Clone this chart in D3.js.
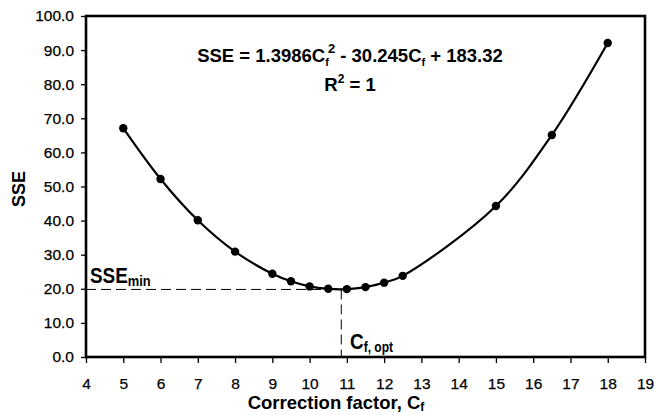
<!DOCTYPE html>
<html>
<head>
<meta charset="utf-8">
<script src="https://cdn.jsdelivr.net/npm/d3@7"></script>
<style>
  body { margin: 0; background: #fff; }
  text { font-family: Arial, "Liberation Sans", sans-serif; fill: #000; }
</style>
</head>
<body>
<script>
// correction factor values and SSE
var cf  = [5, 6, 7, 8, 9, 9.5, 10, 10.5, 11, 11.5, 12, 12.5, 15, 16.5, 18];
var sse = [67.1, 52.2, 40.1, 30.9, 24.4, 22.2, 20.7, 20.0, 19.9, 20.5, 21.8, 23.8, 44.3, 65.1, 92.1];
var xTicks = [4, 5, 6, 7, 8, 9, 10, 11, 12, 13, 14, 15, 16, 17, 18, 19];
var yTicks = [0, 10, 20, 30, 40, 50, 60, 70, 80, 90, 100];
var cfOpt = 10.85, sseMin = 19.81;

var margin = {top: 16, right: 9, bottom: 58, left: 86},
    width = 654 - margin.left - margin.right,
    height = 415 - margin.top - margin.bottom;

var svg = d3.select("body").append("svg")
    .attr("width", 654)
    .attr("height", 415);
var g = svg.append("g")
    .attr("transform", "translate(" + margin.left + "," + margin.top + ")");

var x = d3.scaleLinear().domain([4, 19]).range([0, width]);
var y = d3.scaleLinear().domain([0, 100]).range([height, 0]);

// axes
var xAxis = g.append("g")
    .attr("transform", "translate(0," + height + ")")
    .call(d3.axisBottom(x).tickValues(xTicks).tickSize(6).tickPadding(15).tickFormat(d3.format("d")));
var yAxis = g.append("g")
    .call(d3.axisLeft(y).tickValues(yTicks).tickSize(5).tickPadding(7).tickFormat(d3.format(".1f")));
[xAxis, yAxis].forEach(function(a) {
  a.select(".domain").remove();
  a.selectAll(".tick line").attr("stroke", "#000").attr("stroke-width", 1.3);
  a.selectAll(".tick text").style("font-size", "15.5px").attr("fill", "#000")
      .attr("stroke", "#000").attr("stroke-width", 0.25);
});

// frame
g.append("rect")
    .attr("width", width).attr("height", height)
    .attr("fill", "none").attr("stroke", "#000").attr("stroke-width", 2.6);

// dashed guides
g.append("line")
    .attr("x1", x(4)).attr("x2", x(cfOpt))
    .attr("y1", y(sseMin)).attr("y2", y(sseMin))
    .attr("stroke", "#000").attr("stroke-width", 1).attr("stroke-dasharray", "10,5");
g.append("line")
    .attr("x1", x(cfOpt)).attr("x2", x(cfOpt))
    .attr("y1", y(sseMin)).attr("y2", y(0))
    .attr("stroke", "#000").attr("stroke-width", 1).attr("stroke-dasharray", "10,5");

// curve
var pts = cf.map(function(d, i) { return [d, sse[i]]; });
var line = d3.line()
    .x(function(d) { return x(d[0]); })
    .y(function(d) { return y(d[1]); })
    .curve(d3.curveCatmullRom);
g.append("path")
    .datum(pts)
    .attr("d", line)
    .attr("fill", "none").attr("stroke", "#000").attr("stroke-width", 2.2);

g.selectAll(".dot")
    .data(pts)
  .enter().append("circle")
    .attr("cx", function(d) { return x(d[0]); })
    .attr("cy", function(d) { return y(d[1]); })
    .attr("r", 4.2)
    .attr("fill", "#000");

// equation
var eq = svg.append("text")
    .attr("x", 350).attr("y", 62)
    .attr("text-anchor", "middle")
    .style("font-size", "18.5px").style("font-weight", "bold");
eq.append("tspan").text("SSE = 1.3986C");
eq.append("tspan").attr("dy", 4).style("font-size", "11px").text("f");
eq.append("tspan").attr("dy", -13).attr("dx", -1).style("font-size", "13px").text("2");
eq.append("tspan").attr("dy", 9).text(" - 30.245C");
eq.append("tspan").attr("dy", 4).style("font-size", "11px").text("f");
eq.append("tspan").attr("dy", -4).text(" + 183.32");

var r2 = svg.append("text")
    .attr("x", 350).attr("y", 91)
    .attr("text-anchor", "middle")
    .style("font-size", "18.5px").style("font-weight", "bold");
r2.append("tspan").text("R");
r2.append("tspan").attr("dy", -8).style("font-size", "12px").text("2");
r2.append("tspan").attr("dy", 8).text(" = 1");

// SSEmin label
var sm = svg.append("text")
    .attr("transform", "translate(90,283) scale(0.86,1)")
    .style("font-size", "22px").style("font-weight", "bold");
sm.append("tspan").text("SSE");
sm.append("tspan").attr("dy", 3).style("font-size", "15px").text("min");

// Cf,opt label
var co = svg.append("text")
    .attr("transform", "translate(350,349) scale(0.86,1)")
    .style("font-size", "22px").style("font-weight", "bold");
co.append("tspan").text("C");
co.append("tspan").attr("dy", 3).style("font-size", "14px").text("f, opt");

// axis titles
var xt = svg.append("text")
    .attr("x", 336).attr("y", 409)
    .attr("text-anchor", "middle")
    .style("font-size", "18.5px").style("font-weight", "bold");
xt.append("tspan").text("Correction factor, C");
xt.append("tspan").attr("dy", 2).style("font-size", "12px").text("f");

svg.append("text")
    .attr("transform", "translate(25,189) rotate(-90)")
    .attr("text-anchor", "middle")
    .style("font-size", "18px").style("font-weight", "bold")
    .text("SSE");
</script>
</body>
</html>
